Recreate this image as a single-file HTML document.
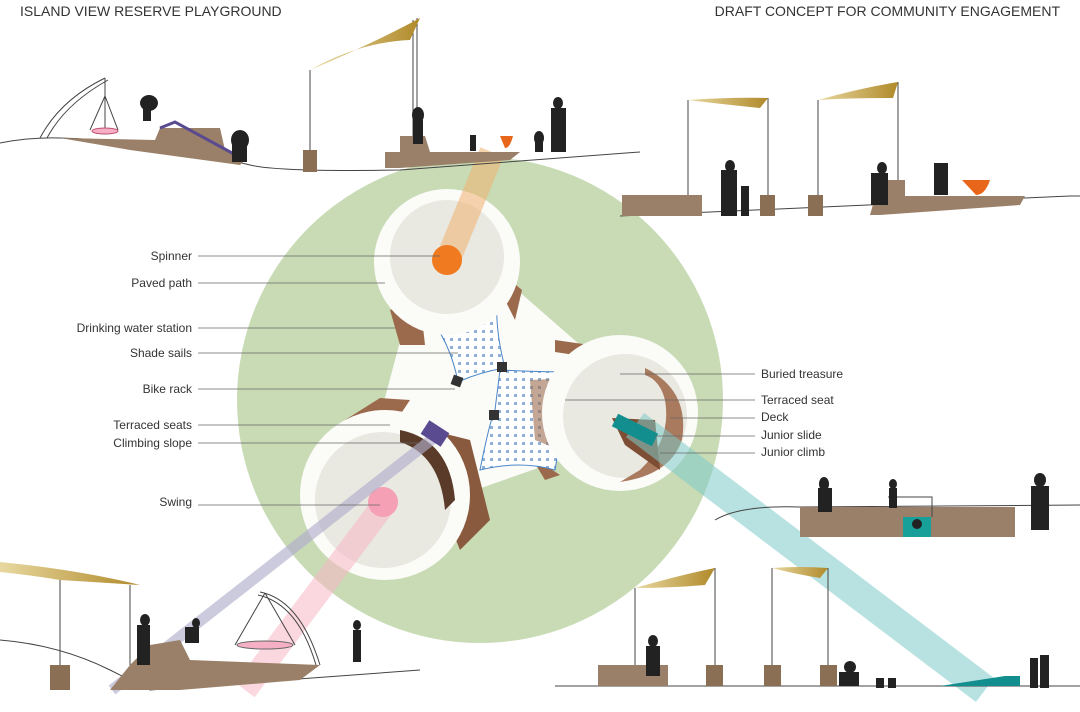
<!DOCTYPE html>
<html><head><meta charset="utf-8"><style>
html,body{margin:0;padding:0;background:#fff}
svg{display:block}
text{font-family:"Liberation Sans",Arial,sans-serif;fill:#333}
</style></head><body>
<svg width="1080" height="712" viewBox="0 0 1080 712" xmlns="http://www.w3.org/2000/svg">
<defs>
<pattern id="net" width="8" height="8" patternUnits="userSpaceOnUse"><rect width="8" height="8" fill="#fff"/><rect x="2" y="2" width="3" height="3" fill="#8fb0d8"/></pattern>
<linearGradient id="sail" x1="0" x2="1"><stop offset="0" stop-color="#e8d8a0"/><stop offset="1" stop-color="#b08a2a"/></linearGradient>
</defs>
<text x="20" y="16" font-size="14">ISLAND VIEW RESERVE PLAYGROUND</text>
<text x="1060" y="16" font-size="14" text-anchor="end">DRAFT CONCEPT FOR COMMUNITY ENGAGEMENT</text>

<!-- green circle -->
<circle cx="480" cy="400" r="243" fill="#c8dbb5"/>
<!-- central white plaza -->
<path d="M447 262 L620 413 L385 495 Z" fill="#fbfbf8" stroke="#fbfbf8" stroke-width="50" stroke-linejoin="round"/>
<path d="M410 300 Q395 340 405 375 L450 380 L430 310 Z" fill="#fbfbf8"/>
<!-- wood blobs -->
<path d="M390 310 L420 300 L425 345 L400 345 Z" fill="#9b6a4d"/>
<path d="M510 280 L522 290 L515 320 L505 300 Z" fill="#9b6a4d"/>
<path d="M555 340 L590 345 L575 355 L555 352 Z" fill="#9b6a4d"/>
<path d="M345 420 L380 398 L410 400 L400 415 L360 425 Z" fill="#9b6a4d"/>
<path d="M430 430 L470 440 L490 520 L460 550 L440 500 Z" fill="#8a5a3e"/>
<path d="M530 455 L560 475 L545 480 Z" fill="#9b6a4d"/>
<!-- shade nets -->
<path d="M425 312 Q460 300 497 298 Q495 330 505 368 Q480 372 458 382 Q450 340 425 312 Z" fill="url(#net)" stroke="#4a86c8" stroke-width="1"/>
<path d="M500 370 Q540 372 575 372 Q565 410 555 470 Q520 460 480 470 Q490 420 495 410 Z" fill="url(#net)" stroke="#4a86c8" stroke-width="1"/>
<path d="M530 380 L575 378 L560 450 L535 440 Z" fill="#9b6a4d" opacity="0.6"/>
<!-- circles -->
<circle cx="447" cy="262" r="73" fill="#fbfbf8"/>
<circle cx="447" cy="257" r="57" fill="#e9e8e1"/>
<circle cx="620" cy="413" r="78" fill="#fbfbf8"/>
<circle cx="625" cy="416" r="62" fill="#e9e8e1"/>
<path d="M645 368 Q690 390 682 440 Q670 475 620 482 L640 470 Q672 440 665 400 Q660 380 645 375 Z" fill="#a97a5e"/>
<path d="M612 418 L655 420 L660 470 L625 445 Z" fill="#7e4e34"/>
<circle cx="385" cy="495" r="85" fill="#fbfbf8"/>
<circle cx="383" cy="500" r="68" fill="#e9e8e1"/>
<path d="M400 430 Q450 440 455 500 L445 510 Q440 455 400 442 Z" fill="#5a3a28"/>
<!-- bike racks -->
<rect x="452" y="376" width="10" height="10" fill="#333" transform="rotate(20 457 381)"/>
<rect x="497" y="362" width="10" height="10" fill="#333"/>
<rect x="489" y="410" width="10" height="10" fill="#333"/>
<!-- beams -->
<line x1="447" y1="262" x2="492" y2="152" stroke="#f0b070" stroke-opacity="0.55" stroke-width="25"/>
<circle cx="447" cy="260" r="15" fill="#f07a20"/>
<line x1="385" y1="503" x2="245" y2="690" stroke="#f7b7c5" stroke-opacity="0.55" stroke-width="24"/>
<circle cx="383" cy="502" r="15" fill="#f5a0b5"/>
<line x1="440" y1="433" x2="112" y2="690" stroke="#b0aecb" stroke-opacity="0.65" stroke-width="11"/>
<line x1="425" y1="427" x2="445" y2="440" stroke="#5a4a8f" stroke-width="16"/>
<line x1="635" y1="425" x2="985" y2="690" stroke="#7ecbc8" stroke-opacity="0.55" stroke-width="30"/>
<line x1="615" y1="420" x2="655" y2="440" stroke="#128e8e" stroke-width="14"/>

<!-- labels -->
<g font-size="12" text-anchor="end">
<text x="192" y="260">Spinner</text>
<text x="192" y="287">Paved path</text>
<text x="192" y="332">Drinking water station</text>
<text x="192" y="357">Shade sails</text>
<text x="192" y="393">Bike rack</text>
<text x="192" y="429">Terraced seats</text>
<text x="192" y="447">Climbing slope</text>
<text x="192" y="506">Swing</text>
</g>
<g stroke="#666" stroke-width="0.8">
<line x1="198" y1="256" x2="440" y2="256"/>
<line x1="198" y1="283" x2="385" y2="283"/>
<line x1="198" y1="328" x2="395" y2="328"/>
<line x1="198" y1="353" x2="458" y2="353"/>
<line x1="198" y1="389" x2="455" y2="389"/>
<line x1="198" y1="425" x2="390" y2="425"/>
<line x1="198" y1="443" x2="420" y2="443"/>
<line x1="198" y1="505" x2="380" y2="505"/>
<line x1="620" y1="374" x2="755" y2="374"/>
<line x1="565" y1="400" x2="755" y2="400"/>
<line x1="670" y1="418" x2="755" y2="418"/>
<line x1="655" y1="436" x2="755" y2="436"/>
<line x1="660" y1="453" x2="755" y2="453"/>
</g>
<g font-size="12">
<text x="761" y="378">Buried treasure</text>
<text x="761" y="404">Terraced seat</text>
<text x="761" y="421">Deck</text>
<text x="761" y="439">Junior slide</text>
<text x="761" y="456">Junior climb</text>
</g>

<!-- top-left section -->
<g fill="none" stroke="#444" stroke-width="1">
<path d="M0 143 Q30 137 60 138 Q150 140 250 165 Q280 172 400 170 L640 152"/>
<path d="M40 138 Q60 100 105 78 M47 138 Q65 104 108 80 M105 78 L105 130"/>
<path d="M105 96 L90 130 M105 96 L118 130"/>
<path d="M310 170 L310 70 M417 150 L417 18 M413 150 L413 20"/>
</g>
<path d="M310 70 Q380 40 420 18 L410 40 Q360 42 310 70 Z" fill="url(#sail)"/>
<ellipse cx="105" cy="131" rx="13" ry="3" fill="#f5b0c5" stroke="#c05070"/>
<path d="M60 138 L155 140 L160 128 L220 128 L225 150 L245 160 L240 165 L130 150 Z" fill="#9a8068"/>
<path d="M160 128 L175 122 L245 160" stroke="#5a4a8f" stroke-width="3" fill="none"/>
<rect x="303" y="150" width="14" height="22" fill="#8a6f55"/>
<path d="M385 168 L385 152 L400 152 L400 136 L425 136 L430 152 L520 152 L510 160 L400 168 Z" fill="#9a8068"/>
<path d="M500 136 L513 136 Q510 148 505 148 Z" fill="#e8661a"/>
<g fill="#222">
<ellipse cx="149" cy="103" rx="9" ry="8"/><rect x="143" y="103" width="8" height="18"/>
<ellipse cx="240" cy="140" rx="9" ry="10"/><rect x="232" y="140" width="15" height="22"/>
<ellipse cx="418" cy="115" rx="6" ry="8"/><rect x="413" y="120" width="10" height="24"/>
<rect x="470" y="135" width="6" height="16"/>
<ellipse cx="539" cy="138" rx="5" ry="7"/><rect x="535" y="138" width="8" height="14"/>
<ellipse cx="558" cy="103" rx="5" ry="6"/><rect x="551" y="108" width="15" height="44"/>
</g>

<!-- top-right section -->
<path d="M620 216 L1070 196 L1080 196" stroke="#444" fill="none"/>
<g stroke="#444" fill="none"><path d="M688 195 L688 100 M768 195 L768 98 M818 195 L818 100 M898 180 L898 82"/></g>
<path d="M688 100 Q730 97 768 98 L760 108 Q720 104 688 100 Z" fill="url(#sail)"/>
<path d="M818 100 Q860 88 898 82 L893 98 Q850 98 818 100 Z" fill="url(#sail)"/>
<rect x="622" y="195" width="80" height="21" fill="#9a8068"/>
<rect x="760" y="195" width="15" height="21" fill="#8a6f55"/>
<rect x="808" y="195" width="15" height="21" fill="#8a6f55"/>
<path d="M870 215 L880 180 L905 180 L905 196 L1025 196 L1020 205 L880 215 Z" fill="#9a8068"/>
<path d="M962 180 L990 180 Q985 195 976 195 Z" fill="#e8661a"/>
<g fill="#222">
<ellipse cx="730" cy="166" rx="5" ry="6"/><rect x="721" y="170" width="16" height="46"/>
<rect x="741" y="186" width="8" height="30"/>
<ellipse cx="882" cy="168" rx="5" ry="6"/><rect x="871" y="173" width="17" height="32"/>
<rect x="934" y="163" width="14" height="32"/>
</g>

<!-- right middle section -->
<path d="M715 520 Q740 505 800 507 L1080 505" stroke="#444" fill="none"/>
<rect x="800" y="507" width="215" height="30" fill="#9a8068"/>
<rect x="903" y="517" width="28" height="20" fill="#17a09a"/>
<path d="M888 497 L932 497 L932 517" stroke="#444" fill="none"/>
<g fill="#222">
<ellipse cx="824" cy="484" rx="5" ry="7"/><rect x="818" y="488" width="14" height="24"/>
<ellipse cx="893" cy="484" rx="4" ry="5"/><rect x="889" y="488" width="8" height="20"/>
<ellipse cx="1040" cy="480" rx="6" ry="7"/><rect x="1031" y="486" width="18" height="44"/>
<ellipse cx="917" cy="524" rx="5" ry="5"/>
</g>

<!-- bottom-left section -->
<path d="M0 640 Q60 645 110 670 L150 690 L420 670" stroke="#444" fill="none"/>
<g stroke="#444" fill="none"><path d="M60 665 L60 575 M130 665 L130 585 M320 665 Q300 600 260 592 M316 665 Q298 604 258 595 M265 593 L235 645 M265 593 L295 645"/></g>
<path d="M0 562 Q80 570 140 585 L60 580 Q30 575 0 572 Z" fill="url(#sail)"/>
<ellipse cx="265" cy="645" rx="28" ry="4" fill="#f5b0c5" stroke="#666"/>
<path d="M50 665 L70 665 L70 690 L50 690 Z" fill="#8a6f55"/>
<path d="M110 690 L130 665 L150 645 L180 640 L190 660 L320 665 L300 680 L180 690 Z" fill="#9a8068"/>
<g fill="#222">
<ellipse cx="145" cy="620" rx="5" ry="6"/><rect x="137" y="625" width="13" height="40"/>
<ellipse cx="196" cy="623" rx="4" ry="5"/><rect x="185" y="627" width="14" height="16"/>
<ellipse cx="357" cy="625" rx="4" ry="5"/><rect x="353" y="630" width="8" height="32"/>
</g>

<!-- bottom-right section -->
<path d="M555 686 L1080 686" stroke="#444" fill="none"/>
<g stroke="#444" fill="none"><path d="M635 665 L635 588 M715 665 L715 568 M772 665 L772 568 M828 665 L828 568"/></g>
<path d="M635 588 Q680 575 715 568 L705 585 Q670 588 635 588 Z" fill="url(#sail)"/>
<path d="M772 568 Q800 566 828 568 L820 578 Q795 574 772 568 Z" fill="url(#sail)"/>
<rect x="598" y="665" width="70" height="21" fill="#9a8068"/>
<rect x="706" y="665" width="17" height="21" fill="#8a6f55"/>
<rect x="764" y="665" width="17" height="21" fill="#8a6f55"/>
<rect x="820" y="665" width="17" height="21" fill="#8a6f55"/>
<path d="M940 686 L1005 676 L1020 676 L1020 686 Z" fill="#128e8e"/>
<g fill="#222">
<ellipse cx="653" cy="641" rx="5" ry="6"/><rect x="646" y="646" width="14" height="30"/>
<ellipse cx="850" cy="667" rx="6" ry="6"/><rect x="839" y="672" width="20" height="14"/>
<rect x="876" y="678" width="8" height="10"/><rect x="888" y="678" width="8" height="10"/>
<rect x="1030" y="658" width="8" height="30"/><rect x="1040" y="655" width="9" height="33"/>
</g>
</svg>
</body></html>
